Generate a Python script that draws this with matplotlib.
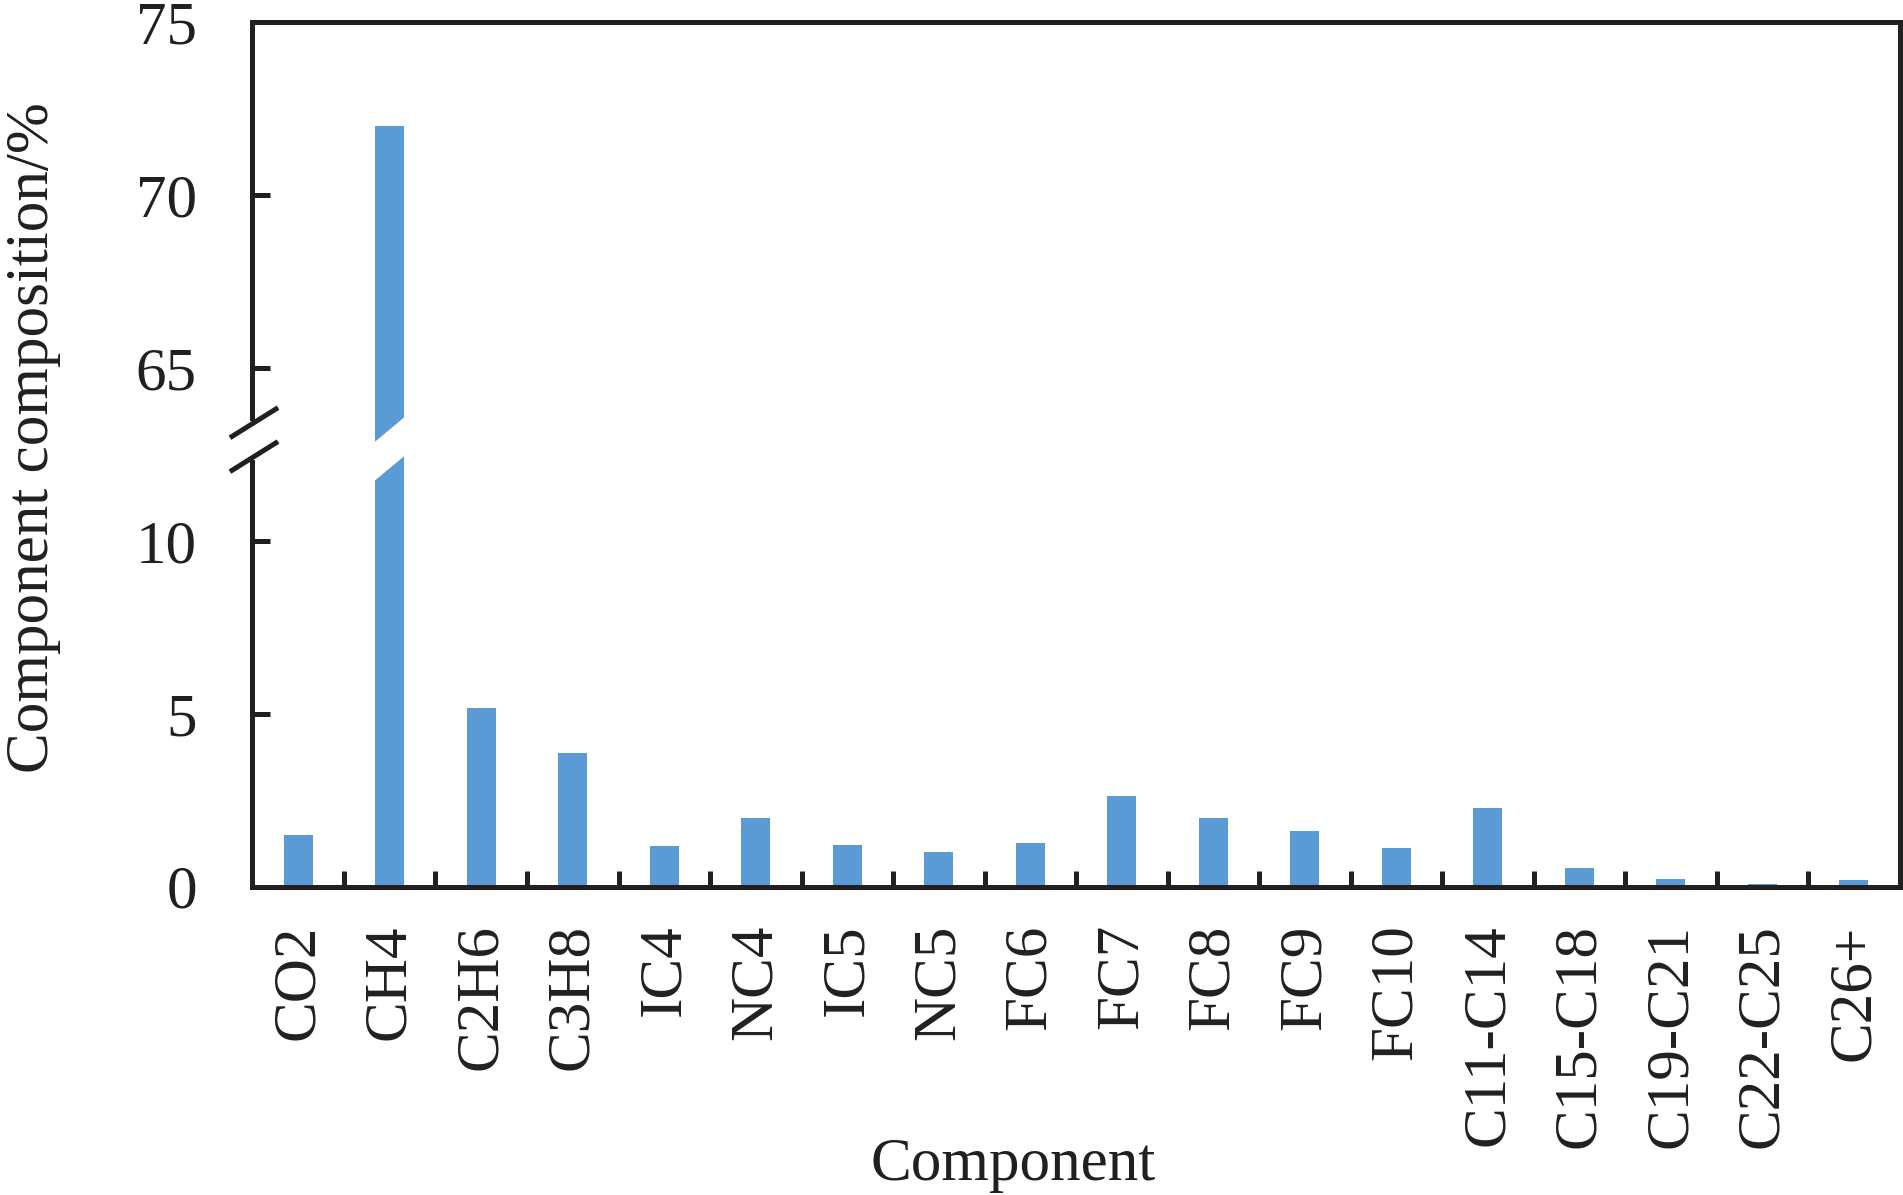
import matplotlib
matplotlib.use('Agg')
import matplotlib.pyplot as plt
import matplotlib.transforms as mtransforms
from matplotlib.patches import Polygon
import numpy as np

# ---- data ----
categories = ["CO2", "CH4", "C2H6", "C3H8", "IC4", "NC4", "IC5", "NC5", "FC6",
              "FC7", "FC8", "FC9", "FC10", "C11-C14", "C15-C18", "C19-C21",
              "C22-C25", "C26+"]
values = [1.50, 72.0, 5.17, 3.86, 1.18, 1.98, 1.21, 1.01, 1.25,
          2.62, 1.99, 1.61, 1.12, 2.28, 0.53, 0.22, 0.08, 0.19]
ytick_values = [0, 5, 10, 65, 70, 75]
ytick_labels = ["0", "5", "10", "65", "70", "75"]

# broken axis: values above break are shifted down
axis_shift = 50
break_value = 40

def to_pos(v):
    return v - axis_shift if v > break_value else v

plt.rcParams['font.family'] = ['Liberation Serif', 'DejaVu Serif']
ink = '#231f20'
blue = '#5B9BD5'

fig = plt.figure(figsize=(19.03, 11.95), dpi=100)
ax = fig.add_axes([0.13268, 0.25799, 0.8655, 0.7236])

x = np.arange(len(categories))
pos = [to_pos(v) for v in values]
ax.bar(x, pos, width=0.32, color=blue, zorder=2)

ax.set_xlim(-0.5, len(categories) - 0.5)
ax.set_ylim(0, to_pos(75))
ax.set_yticks([to_pos(v) for v in ytick_values])
ax.set_yticklabels(ytick_labels)
ax.set_xticks(x)
ax.set_xticklabels(categories, rotation=90)
ax.set_xticks(x[:-1] + 0.5, minor=True)

ax.tick_params(axis='x', which='major', length=0, pad=27, labelsize=44, colors=ink)
ax.tick_params(axis='x', which='minor', direction='in', length=11.5, width=3.6, color=ink)
ax.tick_params(axis='y', which='major', direction='in', length=13, width=3.6, pad=40,
               labelsize=44, colors=ink)
ax.tick_params(axis='y', which='minor', length=0)

for s in ax.spines.values():
    s.set_linewidth(3.6)
    s.set_color(ink)

# break on CH4 bar
ci = 1
slope = 2.2
up_c, lo_c = 13.22, 12.1
hx = 0.2
poly = Polygon([(ci - hx, up_c - slope * hx), (ci + hx, up_c + slope * hx),
                (ci + hx, lo_c + slope * hx), (ci - hx, lo_c - slope * hx)],
               closed=True, facecolor='white', edgecolor='none', zorder=3)
ax.add_patch(poly)

# break on y axis
trans = mtransforms.blended_transform_factory(ax.transAxes, ax.transData)
ax.plot([0, 0], [12.35, 13.45], transform=trans, color='white', lw=6,
        zorder=5, clip_on=False, solid_capstyle='butt')
ax.plot([-0.0137, 0.0155], [12.98, 13.85], transform=trans, color=ink, lw=3.6,
        zorder=6, clip_on=False, solid_capstyle='butt')
ax.plot([-0.0137, 0.0155], [12.0, 12.87], transform=trans, color=ink, lw=3.6,
        zorder=6, clip_on=False, solid_capstyle='butt')

ax.set_ylabel('Component composition/%', fontsize=44, color=ink)
ax.yaxis.label.set_va('center')
ax.yaxis.set_label_coords(-0.1333, 0.519)
ax.set_xlabel('Component', fontsize=44, color=ink)
ax.xaxis.label.set_va('center')
ax.xaxis.set_label_coords(0.4618, -0.3217)

fig.savefig('out.png', dpi=100, facecolor='white')
